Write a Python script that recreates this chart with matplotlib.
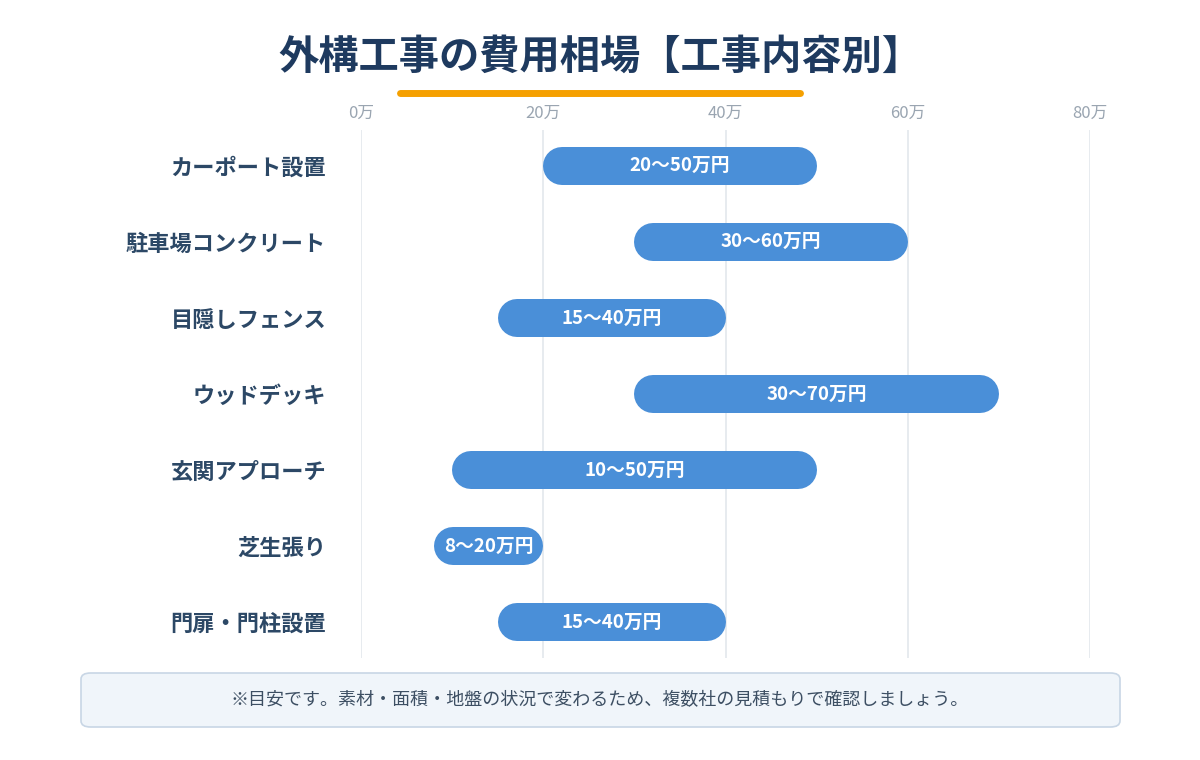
import matplotlib
matplotlib.use("Agg")
import matplotlib.pyplot as plt
from matplotlib.patches import FancyBboxPatch
from matplotlib.lines import Line2D

plt.rcParams['font.family'] = ['Noto Sans CJK JP', 'DejaVu Sans']

categories = ["カーポート設置", "駐車場コンクリート", "目隠しフェンス", "ウッドデッキ",
              "玄関アプローチ", "芝生張り", "門扉・門柱設置"]
low = [20, 30, 15, 30, 10, 8, 15]
high = [50, 60, 40, 70, 50, 20, 40]
labels = ["20〜50万円", "30〜60万円", "15〜40万円", "30〜70万円", "10〜50万円", "8〜20万円", "15〜40万円"]
ticks = [0, 20, 40, 60, 80]
tick_labels = ["0万", "20万", "40万", "60万", "80万"]

W, H = 1200, 760
fig = plt.figure(figsize=(12, 7.6), dpi=100)
ax = fig.add_axes([361/W, 1-658/H, (1090-361)/W, 528/H])
ax.set_xlim(0, 80)
ax.set_ylim(len(categories) - 0.53, -0.47)
for s in ax.spines.values():
    s.set_visible(False)
ax.xaxis.tick_top()
ax.set_xticks(ticks)
ax.set_xticklabels(tick_labels, color="#9aa5b1", fontsize=12)
ax.tick_params(axis='x', length=0, pad=6)
ax.set_yticks(range(len(categories)))
ax.set_yticklabels(categories, fontsize=16, fontweight='bold', color="#2c4866")
ax.tick_params(axis='y', length=0, pad=25)
ax.grid(axis='x', color="#e3e7ec", linewidth=1.2)
ax.set_axisbelow(True)

bar_px = 38
px_per_unit = (1090-361) / 80
r = bar_px / 2 / px_per_unit
lw = bar_px * 72 / 100
for i, (a, b, t) in enumerate(zip(low, high, labels)):
    ax.add_line(Line2D([a + r, b - r], [i, i], linewidth=lw, color="#4a8fd8",
                       solid_capstyle='round', zorder=3))
    ax.text((a + b) / 2, i, t, ha='center', va='center', color='white',
            fontsize=13.5, fontweight='bold', zorder=4)

fig.text(0.5, 1-57/H, "外構工事の費用相場【工事内容別】", ha='center', va='center',
         fontsize=29, fontweight='bold', color="#1e3a5f")
fig.add_artist(Line2D([400/W, 800/W], [1-93/H, 1-93/H], linewidth=5, color="#f5a000",
                      solid_capstyle='round', transform=fig.transFigure))
box = FancyBboxPatch((81/W, 1-727/H), (1120-81)/W, 54/H,
                     boxstyle="round,pad=0,rounding_size=0.008",
                     facecolor="#f0f5fa", edgecolor="#c8d6e5", linewidth=1.2,
                     transform=fig.transFigure)
fig.add_artist(box)
fig.text(0.5, 1-700/H, "※目安です。素材・面積・地盤の状況で変わるため、複数社の見積もりで確認しましょう。",
         ha='center', va='center', fontsize=13, color="#3d4f63")
fig.savefig("out.png", dpi=100, facecolor='white')
